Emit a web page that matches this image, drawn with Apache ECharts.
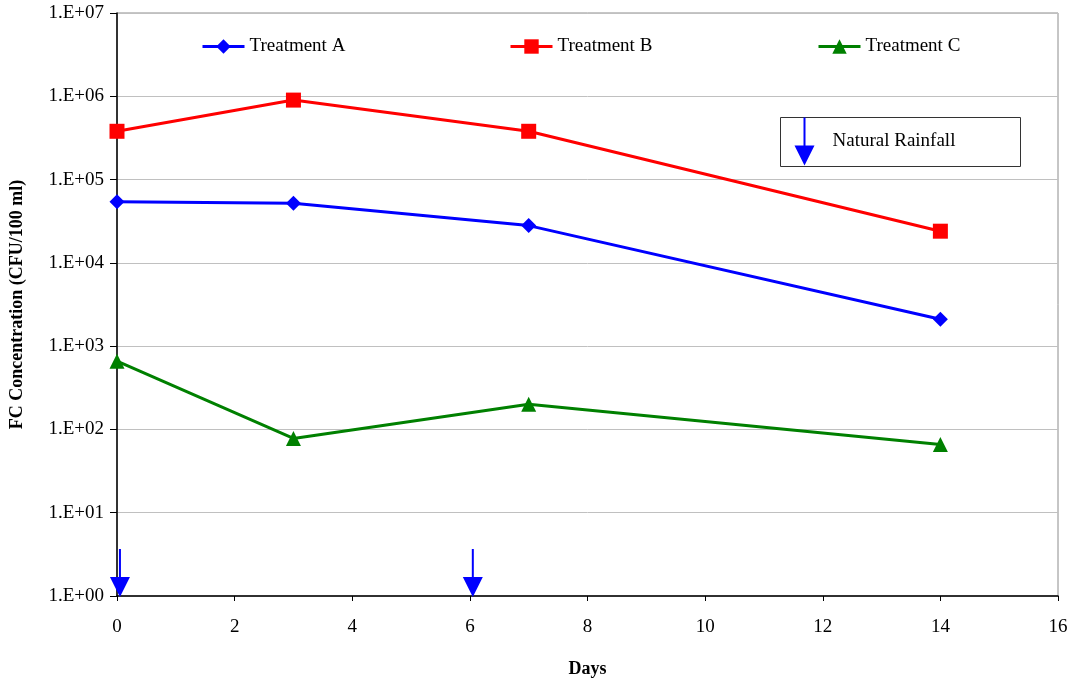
<!DOCTYPE html>
<html>
<head>
<meta charset="utf-8">
<script src="https://cdn.jsdelivr.net/npm/echarts@6/dist/echarts.min.js"></script>
<style>
  html, body { margin: 0; padding: 0; background: #fff; }
  #chart { width: 1075px; height: 680px; }
</style>
</head>
<body>
<div id="chart"></div>
<script>
// Sampling days and fecal coliform counts (CFU/100 ml)
const days = [0, 3, 7, 14];
const treatmentA = [54000, 52000, 28000, 2100];
const treatmentB = [380000, 900000, 380000, 24000];
const treatmentC = [660, 78, 200, 66];
// Days on which natural rainfall occurred
const rainfallDays = [0.05, 6.05];

const serif = '"Liberation Serif", "Times New Roman", serif';
const chart = echarts.init(document.getElementById('chart'));

function pairs(vals) { return days.map((d, i) => [d, vals[i]]); }

function fmtSci(v) {
  const e = Math.round(Math.log10(v));
  return '1.E+' + (e < 10 ? '0' + e : e);
}

const legendCommon = {
  top: 32,
  itemWidth: 42,
  itemHeight: 18,
  itemGap: 5,
  lineStyle: { width: 3 },
  textStyle: { fontFamily: serif, fontSize: 19, color: '#000' }
};

chart.setOption({
  animation: false,
  backgroundColor: '#fff',
  grid: {
    left: 117, top: 13, right: 17, bottom: 84,
    outerBoundsMode: 'none', containLabel: false,
    show: true, borderColor: '#8c8c8c', borderWidth: 1
  },
  legend: [
    Object.assign({ left: 196, data: ['Treatment A'] }, legendCommon),
    Object.assign({ left: 504, data: ['Treatment B'] }, legendCommon),
    Object.assign({ left: 812, data: ['Treatment C'] }, legendCommon)
  ],
  xAxis: {
    type: 'value', min: 0, max: 16, interval: 2,
    name: 'Days', nameLocation: 'middle', nameGap: 64,
    nameTextStyle: { fontFamily: serif, fontSize: 18, fontWeight: 'bold', color: '#000' },
    axisLine: { lineStyle: { color: '#000', width: 1.5 } },
    axisTick: { show: true, inside: false, length: 5, lineStyle: { color: '#000' } },
    axisLabel: { fontFamily: serif, fontSize: 19, color: '#000', margin: 22 },
    splitLine: { show: false }
  },
  yAxis: {
    type: 'log', logBase: 10, min: 1, max: 1e7,
    name: 'FC Concentration (CFU/100 ml)', nameLocation: 'middle', nameGap: 91,
    nameTextStyle: { fontFamily: serif, fontSize: 18, fontWeight: 'bold', color: '#000' },
    axisLine: { show: true, lineStyle: { color: '#000', width: 1.5 } },
    axisTick: { show: true, inside: false, length: 7, lineStyle: { color: '#000' } },
    axisLabel: { fontFamily: serif, fontSize: 19, color: '#000', margin: 13, formatter: fmtSci },
    splitLine: { show: true, lineStyle: { color: '#c0c0c0', width: 1 } },
    minorTick: { show: false }
  },
  series: [
    {
      name: 'Treatment A', type: 'line', data: pairs(treatmentA),
      color: '#0000ff', symbol: 'diamond', symbolSize: 15,
      lineStyle: { width: 3 }, itemStyle: { color: '#0000ff' }, z: 3
    },
    {
      name: 'Treatment B', type: 'line', data: pairs(treatmentB),
      color: '#ff0000', symbol: 'rect', symbolSize: 15,
      lineStyle: { width: 3 }, itemStyle: { color: '#ff0000' }, z: 3
    },
    {
      name: 'Treatment C', type: 'line', data: pairs(treatmentC),
      color: '#008000', symbol: 'triangle', symbolSize: 15,
      lineStyle: { width: 3 }, itemStyle: { color: '#008000' }, z: 3
    },
    {
      name: 'Natural Rainfall', type: 'custom',
      data: rainfallDays.map(d => [d, 1]),
      clip: false, z: 4,
      renderItem: function (params, api) {
        const p = api.coord([api.value(0), api.value(1)]);
        const x = p[0], y = p[1];
        return {
          type: 'group',
          children: [
            { type: 'line', shape: { x1: x, y1: y - 47, x2: x, y2: y - 16 },
              style: { stroke: '#0000ff', lineWidth: 2 } },
            { type: 'polygon', shape: { points: [[x - 10, y - 19], [x + 10, y - 19], [x, y + 1]] },
              style: { fill: '#0000ff' } }
          ]
        };
      }
    }
  ],
  graphic: [
    {
      type: 'group', left: 780, top: 115,
      children: [
        { type: 'rect', shape: { x: 0, y: 0, width: 240, height: 49 },
          style: { fill: '#fff', stroke: '#333', lineWidth: 1 } },
        { type: 'line', shape: { x1: 24, y1: 0, x2: 24, y2: 34 },
          style: { stroke: '#0000ff', lineWidth: 2 } },
        { type: 'polygon', shape: { points: [[14, 28], [34, 28], [24, 48]] },
          style: { fill: '#0000ff' } },
        { type: 'text', x: 52, y: 24,
          style: { text: 'Natural Rainfall', font: '19px ' + serif, fill: '#000', verticalAlign: 'middle' } }
      ]
    }
  ]
});
</script>
</body>
</html>
